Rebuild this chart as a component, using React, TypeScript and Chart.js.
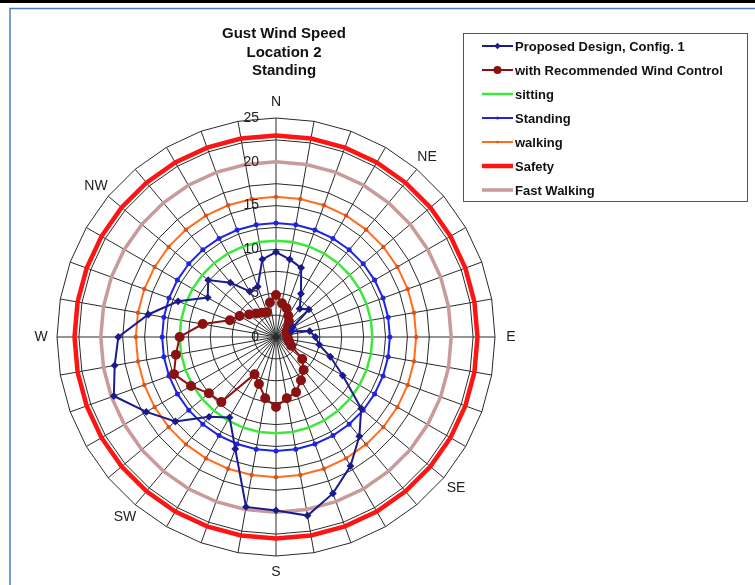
import React, { useEffect, useRef } from 'react';
import { Chart, registerables } from 'chart.js';

Chart.register(...registerables);

// ---- data ----
const bearings = [0, 10, 20, 30, 40, 50, 60, 70, 80, 90, 100, 110, 120, 130, 140, 150, 160, 170,
  180, 190, 200, 210, 220, 230, 240, 250, 260, 270, 280, 290, 300, 310, 320, 330, 340, 350];

const compassNames = ['N', 'NE', 'E', 'SE', 'S', 'SW', 'W', 'NW'];
const compassBearings = [0, 40, 90, 130, 180, 220, 270, 310];

const tickLabels = [0, 5, 10, 15, 20, 25];

const titleLines = ['Gust Wind Speed', 'Location 2', 'Standing'];

const proposedDesign = [9.7, 9.0, 8.4, 5.7, 4.2, 4.9, 2.2, 1.9, 3.9, 4.5, 5.0, 6.6, 8.8, 12.7, 14.8, 17.0, 19.0, 20.7,
  19.8, 19.7, 13.6, 10.6, 11.9, 15.0, 17.1, 19.7, 18.7, 18.0, 14.8, 11.9, 9.0, 10.1, 8.1, 6.0, 6.1, 9.0];

const recommendedControl = [4.8, 3.9, 3.5, 2.8, 2.3, 1.8, 1.4, 1.3, 1.3, 1.3, 1.4, 1.6, 2.0, 3.9, 4.9, 5.7, 6.7, 7.1,
  8.0, 7.1, 5.7, 4.9, 9.7, 10.0, 11.2, 12.4, 11.6, 11.0, 8.5, 5.6, 4.8, 4.0, 3.5, 3.2, 3.0, 4.0];

const sittingLevel = 11;
const standingLevel = 13;
const walkingLevel = 16;
const safetyLevel = 23;
const fastWalkingLevel = 20;

const seriesNames = ['Proposed Design, Config. 1', 'with Recommended Wind Control', 'sitting', 'Standing',
  'walking', 'Safety', 'Fast Walking'];

const FONT = '"Liberation Sans", Arial, sans-serif';

const constant = (v: number) => new Array(bearings.length).fill(v);

const decorPlugin = {
  id: 'decor',
  beforeDraw(chart: any) {
    const ctx = chart.ctx;
    ctx.save();
    ctx.fillStyle = '#ffffff';
    ctx.fillRect(0, 0, chart.width, chart.height);
    // page frame
    ctx.fillStyle = '#000000';
    ctx.fillRect(0, 0, chart.width, 3);
    ctx.strokeStyle = '#4f7cc0';
    ctx.lineWidth = 1.5;
    ctx.beginPath();
    ctx.moveTo(10, chart.height);
    ctx.lineTo(10, 8.5);
    ctx.lineTo(chart.width, 8.5);
    ctx.stroke();
    ctx.restore();
  },
  afterDraw(chart: any) {
    const ctx = chart.ctx;
    const scale = chart.scales.r;
    ctx.save();
    // tick labels
    ctx.fillStyle = '#222';
    ctx.font = `14px ${FONT}`;
    ctx.textAlign = 'right';
    ctx.textBaseline = 'middle';
    tickLabels.forEach((v) => {
      const p = scale.getPointPositionForValue(0, v);
      ctx.fillText(String(v), scale.xCenter - 17, p.y);
    });
    // compass labels
    ctx.textAlign = 'center';
    ctx.font = `14px ${FONT}`;
    compassNames.forEach((name, i) => {
      const idx = bearings.indexOf(compassBearings[i]);
      const p = scale.getPointPosition(idx, scale.drawingArea + 16);
      ctx.fillText(name, p.x, p.y);
    });
    // title
    ctx.font = `bold 15px ${FONT}`;
    ctx.fillStyle = '#111';
    titleLines.forEach((t, i) => {
      ctx.fillText(t, 284, 34 + i * 18.5);
    });
    // legend
    ctx.strokeStyle = '#555';
    ctx.lineWidth = 1;
    ctx.strokeRect(463.5, 33.5, 284, 168);
    ctx.textAlign = 'left';
    ctx.font = `bold 13px ${FONT}`;
    chart.data.datasets.forEach((ds: any, i: number) => {
      const y = 46 + i * 24;
      ctx.strokeStyle = ds.borderColor;
      ctx.lineWidth = ds.borderWidth;
      ctx.beginPath();
      ctx.moveTo(482, y);
      ctx.lineTo(513, y);
      ctx.stroke();
      if (ds.pointRadius > 0) {
        ctx.fillStyle = ds.pointBackgroundColor;
        const r = ds.pointRadius;
        ctx.beginPath();
        if (ds.pointStyle === 'rectRot') {
          ctx.moveTo(497.5, y - r * 1.3);
          ctx.lineTo(497.5 + r * 1.3, y);
          ctx.lineTo(497.5, y + r * 1.3);
          ctx.lineTo(497.5 - r * 1.3, y);
          ctx.closePath();
        } else {
          ctx.arc(497.5, y, r, 0, Math.PI * 2);
        }
        ctx.fill();
      }
      ctx.fillStyle = '#111';
      ctx.fillText(seriesNames[i], 515, y + 1);
    });
    ctx.restore();
  },
};

export default function App() {
  const canvasRef = useRef<HTMLCanvasElement | null>(null);

  useEffect(() => {
    const canvas = canvasRef.current;
    if (!canvas) return;
    const chart = new Chart(canvas, {
      type: 'radar',
      data: {
        labels: bearings.map(String),
        datasets: [
          {
            label: seriesNames[0],
            data: proposedDesign,
            borderColor: '#1b1b8e',
            backgroundColor: '#1b1b8e',
            pointBackgroundColor: '#1b1b8e',
            pointBorderColor: '#1b1b8e',
            pointStyle: 'rectRot',
            pointRadius: 2.5,
            borderWidth: 2,
            fill: false,
          },
          {
            label: seriesNames[1],
            data: recommendedControl,
            borderColor: '#8b1212',
            backgroundColor: '#8b1212',
            pointBackgroundColor: '#8b1212',
            pointBorderColor: '#8b1212',
            pointStyle: 'circle',
            pointRadius: 4,
            borderWidth: 2,
            fill: false,
          },
          {
            label: seriesNames[2],
            data: constant(sittingLevel),
            borderColor: '#3de83d',
            backgroundColor: '#3de83d',
            pointBackgroundColor: '#3de83d',
            pointRadius: 0,
            borderWidth: 2.5,
            fill: false,
          },
          {
            label: seriesNames[3],
            data: constant(standingLevel),
            borderColor: '#1f24e0',
            backgroundColor: '#1f24e0',
            pointBackgroundColor: '#1f24e0',
            pointBorderColor: '#1f24e0',
            pointStyle: 'circle',
            pointRadius: 1.5,
            borderWidth: 2,
            fill: false,
          },
          {
            label: seriesNames[4],
            data: constant(walkingLevel),
            borderColor: '#ff6e1c',
            backgroundColor: '#ff6e1c',
            pointBackgroundColor: '#e0501a',
            pointBorderColor: '#e0501a',
            pointStyle: 'circle',
            pointRadius: 1.2,
            borderWidth: 2,
            fill: false,
          },
          {
            label: seriesNames[5],
            data: constant(safetyLevel),
            borderColor: '#ff1414',
            backgroundColor: '#ff1414',
            pointBackgroundColor: '#ff1414',
            pointRadius: 0,
            borderWidth: 4.5,
            fill: false,
          },
          {
            label: seriesNames[6],
            data: constant(fastWalkingLevel),
            borderColor: '#c99a9a',
            backgroundColor: '#c99a9a',
            pointBackgroundColor: '#c99a9a',
            pointRadius: 0,
            borderWidth: 3.5,
            fill: false,
          },
        ],
      },
      options: {
        responsive: false,
        maintainAspectRatio: false,
        animation: false,
        devicePixelRatio: 1,
        layout: { padding: { left: 57, top: 118, right: 260, bottom: 29 } },
        elements: { line: { tension: 0 } },
        plugins: {
          legend: { display: false },
          title: { display: false },
          tooltip: { enabled: false },
        },
        scales: {
          r: {
            min: 0,
            max: 25,
            startAngle: 0,
            ticks: { display: false, stepSize: 2.5 },
            grid: { color: '#2a2a2a', lineWidth: 1, circular: false },
            angleLines: { color: '#2a2a2a', lineWidth: 1 },
            pointLabels: { display: false },
          },
        },
      },
      plugins: [decorPlugin],
    } as any);
    return () => chart.destroy();
  }, []);

  return (
    <div style={{ position: 'absolute', left: 0, top: 0, width: 755, height: 585, background: '#fff' }}>
      <canvas ref={canvasRef} width={755} height={585} style={{ display: 'block', width: 755, height: 585 }} />
    </div>
  );
}
